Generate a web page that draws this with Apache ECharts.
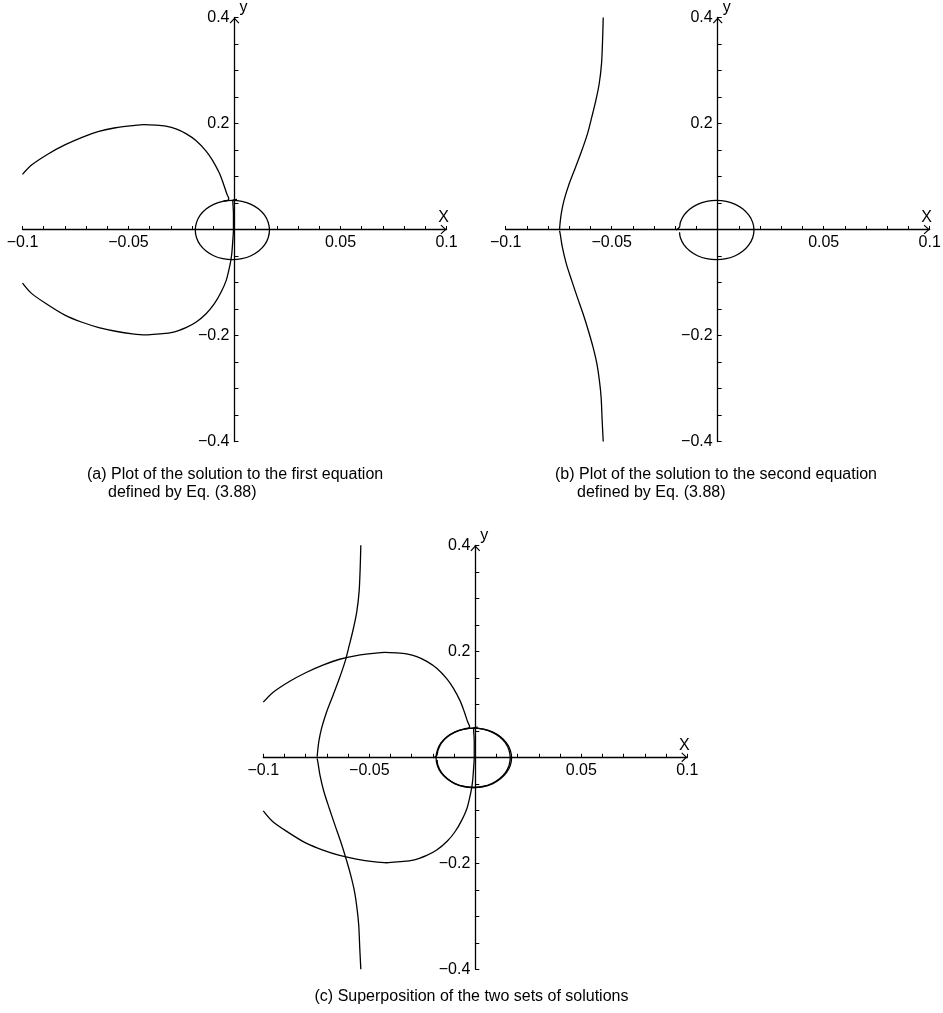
<!DOCTYPE html>
<html>
<head>
<meta charset="utf-8">
<script src="https://cdn.jsdelivr.net/npm/echarts@6/dist/echarts.min.js"></script>
<style>
  html, body { margin: 0; padding: 0; background: #fff; }
  #chart { width: 943px; height: 1013px; }
</style>
</head>
<body>
<div id="chart"></div>
<script>
// ---- Solution curves of Eq. (3.88) ----

// First equation: upper lobe, from the left edge to the hook near the origin
const upperLobeX = [-0.1, -0.0956, -0.0877, -0.0798, -0.0719, -0.064, -0.0561, -0.0482, -0.0427, -0.0371, -0.0324, -0.0276, -0.0229, -0.0182, -0.0134, -0.0103, -0.0071, -0.0052, -0.0036, -0.0027, -0.0032, -0.0052];
const upperLobeY = [0.104, 0.122, 0.143, 0.160, 0.174, 0.185, 0.192, 0.196, 0.198, 0.197, 0.195, 0.190, 0.181, 0.168, 0.148, 0.130, 0.106, 0.086, 0.067, 0.058, 0.055, 0.054];

// First equation: stem along the y axis continuing into the lower lobe
const lowerLobeX = [0.0012, -0.0008, -0.0005, -0.0005, -0.0008, -0.0013, -0.0019, -0.0027, -0.0039, -0.0063, -0.0095, -0.0134, -0.0182, -0.0229, -0.0292, -0.0355, -0.0418, -0.0482, -0.0561, -0.064, -0.0719, -0.0798, -0.0877, -0.0956, -0.1];
const lowerLobeY = [0.057, 0.055, 0.030, 0, -0.021, -0.046, -0.062, -0.077, -0.096, -0.118, -0.140, -0.159, -0.175, -0.185, -0.194, -0.197, -0.199, -0.197, -0.192, -0.185, -0.175, -0.162, -0.143, -0.121, -0.101];

// First equation: small closed oval around the origin (traced once round, with a short overlap)
const ovalAX = [0.0159, 0.0165, 0.0159, 0.0142, 0.0114, 0.0078, 0.0035, -0.0010, -0.0055, -0.0098, -0.0134, -0.0162, -0.0179, -0.0185, -0.0179, -0.0162, -0.0134, -0.0098, -0.0055, -0.0010, 0.0035, 0.0078, 0.0114, 0.0142, 0.0159, 0.0165, 0.0159];
const ovalAY = [-0.0155, -0.001, 0.0135, 0.027, 0.0386, 0.0475, 0.0531, 0.055, 0.0531, 0.0475, 0.0386, 0.027, 0.0135, -0.001, -0.0155, -0.029, -0.0406, -0.0495, -0.0551, -0.057, -0.0551, -0.0495, -0.0406, -0.029, -0.0155, -0.001, 0.0135];

// Second equation: wavy branch, upper and lower halves
const waveUpX = [-0.0540, -0.0543, -0.0548, -0.0559, -0.0575, -0.0594, -0.0614, -0.0641, -0.0670, -0.0701, -0.0725, -0.0738, -0.0744, -0.0746];
const waveUpY = [0.400, 0.357, 0.313, 0.275, 0.243, 0.212, 0.181, 0.149, 0.118, 0.086, 0.055, 0.030, 0.010, 0.001];
const waveLowX = [-0.0746, -0.0743, -0.0733, -0.0714, -0.0689, -0.0662, -0.0635, -0.0610, -0.0588, -0.0570, -0.0558, -0.0550, -0.0545, -0.0540];
const waveLowY = [-0.002, -0.008, -0.033, -0.065, -0.096, -0.128, -0.159, -0.191, -0.222, -0.253, -0.285, -0.316, -0.360, -0.400];

// Second equation: oval around the origin (small notch on its left side)
const ovalBX = [-0.0197, -0.0181, -0.0176, -0.0159, -0.0131, -0.0095, -0.0052, -0.0006, 0.0040, 0.0083, 0.0119, 0.0147, 0.0165, 0.0171, 0.0165, 0.0147, 0.0119, 0.0083, 0.0040, -0.0006, -0.0052, -0.0095, -0.0131, -0.0159, -0.0176, -0.0180];
const ovalBY = [-0.001, 0.004, 0.0135, 0.027, 0.0386, 0.0475, 0.0531, 0.055, 0.0531, 0.0475, 0.0386, 0.027, 0.0135, -0.001, -0.0155, -0.029, -0.0406, -0.0495, -0.0551, -0.057, -0.0551, -0.0495, -0.0406, -0.029, -0.0155, -0.005];

// Tick labels
const xTickValues = [-0.1, -0.05, 0.05, 0.1];
const xTickLabels = ['\u22120.1', '\u22120.05', '0.05', '0.1'];
const yTickValues = [-0.4, -0.2, 0.2, 0.4];
const yTickLabels = ['\u22120.4', '\u22120.2', '0.2', '0.4'];

// Captions
const captionA = ['(a) Plot of the solution to the first equation', 'defined by Eq. (3.88)'];
const captionB = ['(b) Plot of the solution to the second equation', 'defined by Eq. (3.88)'];
const captionC = ['(c) Superposition of the two sets of solutions'];

// ---- Chart setup ----
const FONT = '"Liberation Sans", Arial, Helvetica, sans-serif';
const INK = '#000';
const chevron = 'path://M5,0L10,5.4L9.1,6.2L5,1.7L0.9,6.2L0,5.4Z';
const SIDE = 424;            // plot square side in px
const HALF = SIDE / 2;       // axes cross in the middle of each square

const pairs = (xs, ys) => xs.map((x, i) => [x, ys[i]]);
const lookup = (vals, labels) => v => {
  for (let i = 0; i < vals.length; i++) if (Math.abs(v - vals[i]) < 1e-7) return labels[i];
  return '';
};

const grids = [
  { left: 22.5, top: 17.5, width: SIDE, height: SIDE },
  { left: 505.7, top: 17.5, width: SIDE, height: SIDE },
  { left: 263.3, top: 545.3, width: SIDE, height: SIDE }
];

// axes are pulled from the grid edges to the centre so they cross at the origin
function xAxisFor(i) {
  return {
    gridIndex: i, type: 'value', min: -0.1, max: 0.1, interval: 0.01,
    position: 'bottom', offset: -HALF,
    name: 'X', nameLocation: 'end', nameGap: -3, nameMoveOverlap: false,
    nameTextStyle: { fontFamily: FONT, fontSize: 16, color: INK, align: 'center', verticalAlign: 'bottom', padding: [0, 0, 4, 0] },
    axisLine: { onZero: false, symbol: ['none', chevron], symbolSize: [10, 6], symbolOffset: [0, -3], lineStyle: { color: INK, width: 1.3 } },
    axisTick: { show: true, inside: true, length: 3.5, lineStyle: { color: INK, width: 1 } },
    axisLabel: { formatter: lookup(xTickValues, xTickLabels), fontFamily: FONT, fontSize: 16, color: INK, margin: 5, showMinLabel: true, showMaxLabel: true },
    splitLine: { show: false }, minorTick: { show: false }
  };
}

function yAxisFor(i) {
  return {
    gridIndex: i, type: 'value', min: -0.4, max: 0.4, interval: 0.05,
    position: 'left', offset: -HALF,
    name: 'y', nameLocation: 'end', nameGap: 0, nameMoveOverlap: false,
    nameTextStyle: { fontFamily: FONT, fontSize: 16, color: INK, align: 'left', verticalAlign: 'bottom', padding: [0, 0, 2, 5] },
    axisLine: { onZero: false, symbol: ['none', chevron], symbolSize: [10, 6], symbolOffset: [0, -3], lineStyle: { color: INK, width: 1.3 } },
    axisTick: { show: true, inside: true, length: 4, lineStyle: { color: INK, width: 1 } },
    axisLabel: { formatter: lookup(yTickValues, yTickLabels), fontFamily: FONT, fontSize: 16, color: INK, margin: 5, padding: [6, 0, 0, 0], showMinLabel: true, showMaxLabel: true },
    splitLine: { show: false }, minorTick: { show: false }
  };
}

function curve(data, i, smooth) {
  return {
    type: 'line', data: data, xAxisIndex: i, yAxisIndex: i,
    symbol: 'none', smooth: smooth, silent: true, animation: false, z: 5,
    lineStyle: { color: INK, width: 1.3 }
  };
}

// [points, smoothing] for each traced piece
const firstEq = [[pairs(upperLobeX, upperLobeY), 0.3], [pairs(lowerLobeX, lowerLobeY), 0.3], [pairs(ovalAX, ovalAY), 0.4]];
const secondEq = [[pairs(waveUpX, waveUpY), 0.3], [pairs(waveLowX, waveLowY), 0.3], [pairs(ovalBX, ovalBY), 0.4]];

const series = [];
firstEq.forEach(d => series.push(curve(d[0], 0, d[1])));
secondEq.forEach(d => series.push(curve(d[0], 1, d[1])));
firstEq.concat(secondEq).forEach(d => series.push(curve(d[0], 2, d[1])));

function captionText(lines, left, top, indent) {
  return lines.map((t, k) => ({
    type: 'text', left: left + (k ? indent : 0), top: top + k * 18, silent: true,
    style: { text: t, font: '16px ' + FONT, fill: INK }
  }));
}

const graphics = []
  .concat(captionText(captionA, 87, 467, 21))
  .concat(captionText(captionB, 555, 467, 22))
  .concat([{ type: 'text', left: 'center', top: 989, silent: true, style: { text: captionC[0], font: '16px ' + FONT, fill: INK } }]);

const chart = echarts.init(document.getElementById('chart'), null, { renderer: 'canvas' });
chart.setOption({
  backgroundColor: '#fff',
  animation: false,
  grid: grids.map(g => Object.assign({ containLabel: false, outerBoundsMode: 'none' }, g)),
  xAxis: [0, 1, 2].map(xAxisFor),
  yAxis: [0, 1, 2].map(yAxisFor),
  series: series,
  graphic: graphics
});
</script>
</body>
</html>
